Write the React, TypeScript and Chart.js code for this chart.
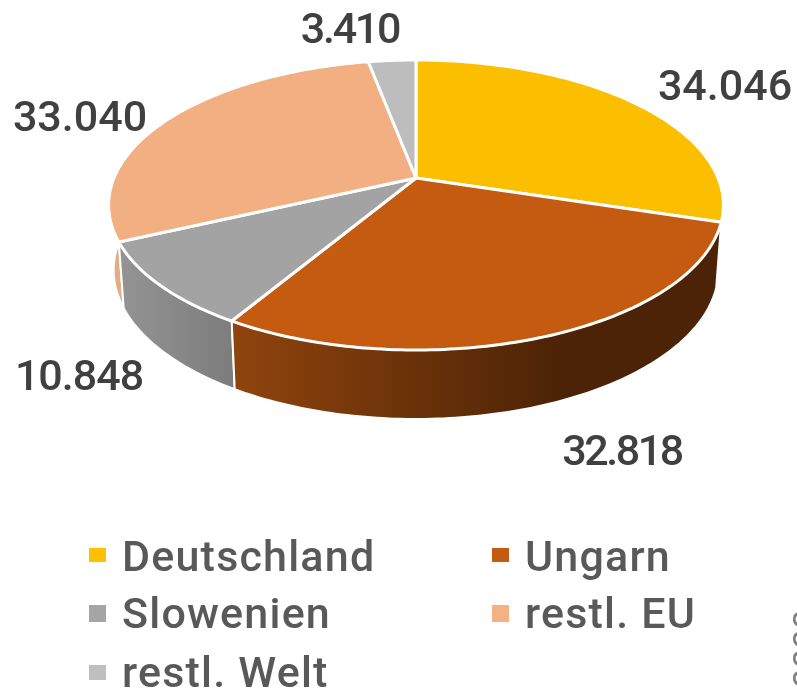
import React, { useEffect, useRef } from "react";
import { Chart, registerables } from "chart.js";

Chart.register(...registerables);

const categories = ["Deutschland", "Ungarn", "Slowenien", "restl. EU", "restl. Welt"];
const values = [34046, 32818, 10848, 33040, 3410];
const topColors = ["#FBBF00", "#C55A11", "#A3A3A3", "#F1AF82", "#BDBDBD"];
const legendColors = ["#FFC000", "#C55A11", "#A5A5A5", "#F4B183", "#BFBFBF"];
const wallStops = [
  ["#C89800", "#C89800"],
  ["#8F440D", "#4C2306"],
  ["#949494", "#7C7C7C"],
  ["#E2AC86", "#E2AC86"],
  ["#909090", "#909090"],
];
const wallRanges = [
  [416, 723],
  [236, 560],
  [118, 236],
  [108, 118],
  [370, 416],
];
const labelAnchors = [
  [725, 100],
  [622, 465],
  [79, 390],
  [80, 131],
  [350, 43],
];
const labelSpacing = [0, -2.4, -1, 0, -2.2];
const legendAnchors = [
  [89, 548, 17, 14, 122, 571],
  [492, 548, 17, 14, 525, 571],
  [89, 605, 17, 17, 122, 628],
  [492, 605, 17, 17, 525, 628],
  [89, 665, 17, 15, 122, 687],
];

// Projection of the pie's circle onto the tilted top face
const apexX = 416;
const apexY = 178;
const persp = -0.186;
const scaleY = 140;
const scaleX = 302;
const topEllipse = { cx: 416, cy: 205, rx: 307, ry: 145 };
const bottomEllipse = { cx: 416, cy: 270, rx: 302, ry: 149 };

function project(angle: number) {
  const x = Math.cos(angle);
  const y = Math.sin(angle);
  const w = 1 + persp * y;
  return [apexX + (scaleX * x) / w, apexY + (scaleY * y) / w];
}

function toBottom(p: number[]) {
  const c = (p[0] - topEllipse.cx) / topEllipse.rx;
  const s = (p[1] - topEllipse.cy) / topEllipse.ry;
  return [bottomEllipse.cx + bottomEllipse.rx * c, bottomEllipse.cy + bottomEllipse.ry * s];
}

function arcPoints(start: number, end: number) {
  const n = Math.max(8, Math.ceil((end - start) * 60));
  const pts: number[][] = [];
  for (let i = 0; i <= n; i++) pts.push(project(start + ((end - start) * i) / n));
  return pts;
}

const pie3d = {
  id: "pie3d",
  beforeDatasetsDraw(chart: any) {
    const ctx: CanvasRenderingContext2D = chart.ctx;
    const arcs = chart.getDatasetMeta(0).data;
    const faces = arcs.map((a: any) => arcPoints(a.startAngle, a.endAngle));

    ctx.save();
    ctx.lineJoin = "round";
    // side walls
    [3, 4, 0, 2, 1].forEach((i) => {
      const pts = faces[i];
      const bottoms = pts.map(toBottom);
      const g = ctx.createLinearGradient(wallRanges[i][0], 0, wallRanges[i][1], 0);
      g.addColorStop(0, wallStops[i][0]);
      g.addColorStop(1, wallStops[i][1]);
      ctx.beginPath();
      pts.forEach((p: number[], k: number) => (k ? ctx.lineTo(p[0], p[1]) : ctx.moveTo(p[0], p[1])));
      for (let k = bottoms.length - 1; k >= 0; k--) ctx.lineTo(bottoms[k][0], bottoms[k][1]);
      ctx.closePath();
      ctx.fillStyle = g;
      ctx.fill();
      ctx.strokeStyle = "#FFFFFF";
      ctx.lineWidth = 2;
      ctx.stroke();
    });
    // top faces
    faces.forEach((pts: number[][], i: number) => {
      ctx.beginPath();
      ctx.moveTo(apexX, apexY);
      pts.forEach((p) => ctx.lineTo(p[0], p[1]));
      ctx.closePath();
      ctx.fillStyle = topColors[i];
      ctx.fill();
      ctx.strokeStyle = "#FFFFFF";
      ctx.lineWidth = 3;
      ctx.stroke();
    });

    // data labels
    ctx.font = '500 43px "Roboto"';
    ctx.fillStyle = "#404040";
    ctx.textAlign = "center";
    ctx.textBaseline = "alphabetic";
    values.forEach((v, i) => {
      (ctx as any).letterSpacing = labelSpacing[i] + "px";
      ctx.fillText(v.toLocaleString("de-DE"), labelAnchors[i][0], labelAnchors[i][1]);
    });

    // legend
    (ctx as any).letterSpacing = "1.2px";
    ctx.font = '500 43px "Roboto"';
    ctx.fillStyle = "#595959";
    ctx.textAlign = "left";
    categories.forEach((c, i) => {
      const a = legendAnchors[i];
      ctx.save();
      ctx.fillStyle = legendColors[i];
      ctx.fillRect(a[0], a[1], a[2], a[3]);
      ctx.restore();
      ctx.fillText(c, a[4], a[5]);
    });

    // clipped note at the right edge
    (ctx as any).letterSpacing = "0px";
    ctx.save();
    ctx.translate(818, 688);
    ctx.rotate(-Math.PI / 2);
    ctx.font = '35px "Roboto"';
    ctx.fillStyle = "#808080";
    ctx.fillText("0000", 0, 0);
    ctx.restore();
    ctx.restore();
    return false;
  },
};

export default function App() {
  const ref = useRef<HTMLCanvasElement>(null);
  useEffect(() => {
    const chart = new Chart(ref.current!, {
      type: "pie",
      data: {
        labels: categories,
        datasets: [{ data: values, backgroundColor: topColors }],
      },
      options: {
        animation: false,
        responsive: false,
        plugins: { legend: { display: false }, tooltip: { enabled: false } },
      },
      plugins: [pie3d],
    } as any);
    return () => chart.destroy();
  }, []);
  return (
    <div style={{ position: "fixed", left: 0, top: 0, width: 797, height: 692, overflow: "hidden", background: "#fff" }}>
      <canvas ref={ref} width={797} height={692} style={{ display: "block" }} />
    </div>
  );
}
